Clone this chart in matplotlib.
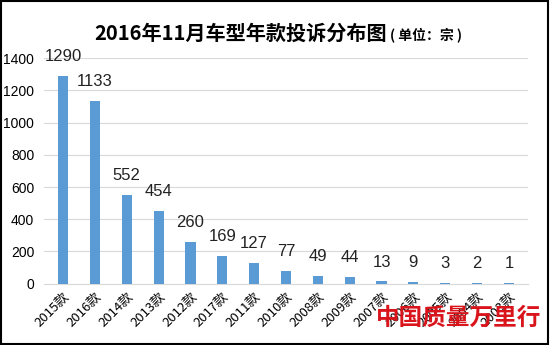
import matplotlib
matplotlib.use("Agg")
import matplotlib.pyplot as plt
import numpy as np

plt.rcParams['font.family'] = ['Noto Sans CJK SC', 'DejaVu Sans']

# complaint counts by model year, Nov 2016
categories = ["2015款", "2016款", "2014款", "2013款", "2012款", "2017款", "2011款",
              "2010款", "2008款", "2009款", "2007款", "2006款", "2005款", "2004款", "2003款"]
counts = [1290, 1133, 552, 454, 260, 169, 127, 77, 49, 44, 13, 9, 3, 2, 1]
yticks = [0, 200, 400, 600, 800, 1000, 1200, 1400]

fig = plt.figure(figsize=(5.5, 3.45), dpi=100)
ax = fig.add_axes([0.08, 0.178, 0.88, 0.653])

x = np.arange(len(categories))
ax.bar(x, counts, width=0.32, color="#5B9BD5", zorder=3)

for xi, v in zip(x, counts):
    ax.annotate(str(v), (xi, v), xytext=(0, 14), textcoords="offset points",
                ha="center", va="center", fontsize=12, color="#222222",
                family=["Liberation Sans", "DejaVu Sans"])

ax.set_ylim(0, 1400)
ax.set_xlim(-0.6, len(categories) - 0.4)
ax.set_yticks(yticks)
ax.set_yticklabels([str(t) for t in yticks], fontsize=10, family=["Liberation Sans", "DejaVu Sans"])
ax.set_xticks(x)
ax.set_xticklabels(categories, rotation=45, ha="right", rotation_mode="anchor", fontsize=9.5)
ax.tick_params(axis="y", length=0, pad=7)
ax.tick_params(axis="x", length=0, pad=5)
ax.yaxis.grid(True, color="#d9d9d9", linewidth=0.8, zorder=0)
for s in ["left", "right", "top"]:
    ax.spines[s].set_visible(False)
ax.spines["bottom"].set_color("#d9d9d9")

fig.text(0.438, 0.905, "2016年11月车型年款投诉分布图", ha="center", va="center",
         fontsize=14.5, fontweight="bold")
fig.text(0.775, 0.898, "( 单位：宗 )", ha="center", va="center", fontsize=10, fontweight="bold")

# red logo text in the lower right
fig.text(0.985, 0.078, "中国质量万里行", ha="right", va="center", fontsize=17,
         fontweight="bold", color="#d9141b")

# black frame round the figure
fig.patches.append(plt.Rectangle((0.002, 0.003), 0.995, 0.994, transform=fig.transFigure,
                                 fill=False, edgecolor="black", linewidth=1.5))

fig.savefig("out.png", dpi=100)
